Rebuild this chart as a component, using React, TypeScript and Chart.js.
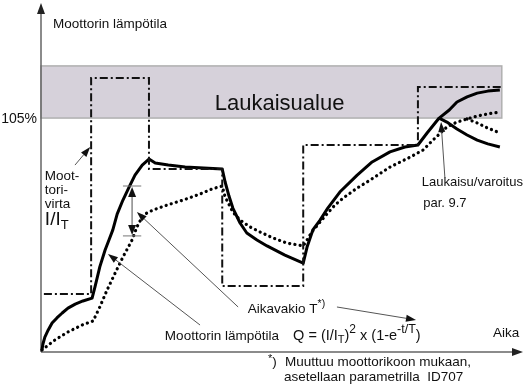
import React, { useEffect, useRef } from "react";
import { Chart, registerables } from "chart.js";

Chart.register(...registerables);

// ---- data (time in arbitrary units, levels in % of motor temperature scale) ----
const TIME_MAX = 100;
const LEVEL_MAX = 153.5;
const TRIP_LEVEL = 105; // 105 %
const ZONE_TOP = 128.4;
const ZONE_END = 95.6;

// Motor current I/I_T (dash-dot)
const currentTime = [0.6, 10.4, 10.4, 22.4, 22.4, 37.6, 37.6, 54.4, 54.4, 78.2, 78.2, 95.4];
const currentLevel = [26.0, 26.0, 123.0, 123.0, 82.1, 82.1, 29.6, 29.6, 92.9, 92.9, 118.9, 118.9];

// Motor temperature (solid)
const tempTime = [0.2, 0.4, 0.8, 1.5, 2.3, 3.3, 4.4, 5.6, 7.1, 8.7, 10.6, 11.2, 12.2, 13.3, 14.1, 14.9, 15.8, 17.0, 18.3, 19.5, 21.0, 22.4, 23.7, 26.4, 29.9, 37.6, 38.2, 39.0, 39.8, 41.3, 42.7, 44.8, 46.9, 50.6, 54.4, 55.2, 56.4, 57.9, 59.5, 62.0, 65.6, 68.7, 72.4, 75.5, 78.2, 80.1, 82.6, 84.7, 86.3, 88.4, 90.5, 92.7, 95.2];
const tempLevel = [0.9, 3.6, 6.7, 9.9, 13.0, 15.3, 17.5, 19.7, 21.5, 22.9, 24.2, 29.2, 38.2, 45.8, 50.3, 54.8, 61.9, 68.2, 74.1, 79.4, 83.9, 86.6, 84.8, 83.9, 83.0, 82.1, 76.3, 70.0, 64.6, 57.9, 53.4, 50.3, 47.6, 43.5, 39.9, 47.1, 54.8, 59.2, 64.6, 71.8, 79.4, 85.3, 89.8, 92.0, 92.9, 98.3, 105.0, 108.6, 112.2, 114.5, 116.2, 117.1, 117.6];

// Motor temperature after trip (solid branch)
const tempTripTime = [82.6, 84.2, 86.3, 88.4, 90.5, 92.7, 95.2];
const tempTripLevel = [105.0, 103.2, 100.1, 97.4, 95.1, 93.4, 92.0];

// Temperature, slower time constant (dotted)
const slowTime = [0.2, 1.5, 2.9, 5.6, 8.5, 10.8, 12.2, 13.7, 15.4, 17.0, 18.9, 19.9, 21.2, 23.2, 26.1, 29.5, 33.0, 35.5, 37.6, 38.2, 39.8, 41.3, 43.4, 45.4, 48.1, 51.0, 54.4, 55.2, 56.2, 57.9, 59.3, 61.0, 62.7, 65.6, 68.3, 72.4, 76.6, 79.3, 81.3, 84.2, 86.3, 88.4, 90.5, 92.5, 95.2];
const slowLevel = [0.9, 3.1, 5.4, 9.0, 12.1, 13.9, 20.2, 27.8, 35.5, 42.6, 50.3, 56.1, 61.5, 63.7, 65.9, 68.2, 70.9, 73.2, 74.5, 69.6, 62.8, 59.2, 56.1, 53.9, 51.2, 48.9, 47.6, 50.3, 53.9, 58.3, 61.9, 66.0, 69.1, 73.6, 77.2, 83.0, 87.5, 90.7, 95.1, 101.0, 103.2, 104.6, 105.9, 106.8, 107.7];

const slowBranchTime = [88.4, 90.5, 92.7, 95.2];
const slowBranchLevel = [104.6, 102.8, 100.5, 98.3];

const FONT = '"Liberation Sans", Arial, Helvetica, sans-serif';

const pts = (xs: number[], ys: number[]) => xs.map((x, i) => ({ x, y: ys[i] }));

type Run = [string, number, number]; // text, font size, vertical offset

function drawRuns(ctx: CanvasRenderingContext2D, x: number, y: number, runs: Run[]) {
  let cx = x;
  for (const [t, size, dy] of runs) {
    ctx.font = `${size}px ${FONT}`;
    ctx.fillText(t, cx, y + dy);
    cx += ctx.measureText(t).width;
  }
}

function drawArrow(ctx: CanvasRenderingContext2D, x1: number, y1: number, x2: number, y2: number, len = 10, half = 3.5) {
  const a = Math.atan2(y2 - y1, x2 - x1);
  const bx = x2 - len * Math.cos(a);
  const by = y2 - len * Math.sin(a);
  ctx.strokeStyle = "#555";
  ctx.lineWidth = 1;
  ctx.beginPath();
  ctx.moveTo(x1, y1);
  ctx.lineTo(bx, by);
  ctx.stroke();
  ctx.fillStyle = "#111";
  ctx.beginPath();
  ctx.moveTo(x2, y2);
  ctx.lineTo(bx + half * Math.sin(a), by - half * Math.cos(a));
  ctx.lineTo(bx - half * Math.sin(a), by + half * Math.cos(a));
  ctx.closePath();
  ctx.fill();
}

const diagramPlugin = {
  id: "diagram",
  beforeDatasetsDraw(chart: any) {
    const { ctx, chartArea } = chart;
    const xs = chart.scales.x;
    const ys = chart.scales.y;
    ctx.save();
    // trip zone band
    const x0 = xs.getPixelForValue(0);
    const x1 = xs.getPixelForValue(ZONE_END);
    const yTop = ys.getPixelForValue(ZONE_TOP);
    const yBot = ys.getPixelForValue(TRIP_LEVEL);
    ctx.fillStyle = "rgb(214,209,218)";
    ctx.fillRect(x0, yTop, x1 - x0, yBot - yTop);
    ctx.strokeStyle = "#b0b0b0";
    ctx.lineWidth = 1.5;
    ctx.strokeRect(x0, yTop, x1 - x0, yBot - yTop);

    ctx.fillStyle = "#111";
    ctx.font = `22px ${FONT}`;
    ctx.textAlign = "center";
    ctx.textBaseline = "alphabetic";
    ctx.fillText("Laukaisualue", xs.getPixelForValue(49.5), ys.getPixelForValue(108.6));

    // axes
    ctx.strokeStyle = "#666";
    ctx.fillStyle = "#222";
    ctx.lineWidth = 1.5;
    const left = chartArea.left;
    const bottom = chartArea.bottom;
    ctx.beginPath();
    ctx.moveTo(left, bottom);
    ctx.lineTo(left, chartArea.top + 2);
    ctx.moveTo(left, bottom);
    ctx.lineTo(chartArea.right - 8, bottom);
    ctx.stroke();
    ctx.beginPath();
    ctx.moveTo(left, chartArea.top - 7);
    ctx.lineTo(left - 4, chartArea.top + 4);
    ctx.lineTo(left + 4, chartArea.top + 4);
    ctx.closePath();
    ctx.fill();
    ctx.beginPath();
    ctx.moveTo(chartArea.right, bottom);
    ctx.lineTo(chartArea.right - 11, bottom - 4);
    ctx.lineTo(chartArea.right - 11, bottom + 4);
    ctx.closePath();
    ctx.fill();
    ctx.restore();
  },
  afterDatasetsDraw(chart: any) {
    const { ctx, chartArea } = chart;
    const xs = chart.scales.x;
    const ys = chart.scales.y;
    const X = (t: number) => xs.getPixelForValue(t);
    const Y = (v: number) => ys.getPixelForValue(v);
    ctx.save();
    ctx.fillStyle = "#111";
    ctx.textBaseline = "alphabetic";
    ctx.textAlign = "left";

    // y-axis title
    ctx.font = `13.5px ${FONT}`;
    ctx.fillText("Moottorin lämpötila", X(2.5), Y(145.4));

    // 105 %
    ctx.font = `14px ${FONT}`;
    ctx.textAlign = "right";
    ctx.fillText("105%", chartArea.left - 4, Y(TRIP_LEVEL) + 5);
    ctx.textAlign = "left";

    // current label
    ctx.font = `13.5px ${FONT}`;
    ctx.fillText("Moot-", X(0.8), Y(77.2));
    ctx.fillText("tori-", X(0.8), Y(70.9));
    ctx.fillText("virta", X(0.8), Y(64.6));
    drawRuns(ctx, X(0.8), Y(57.0), [["I/I", 19, 0], ["T", 13, 4]]);

    // time constant
    drawRuns(ctx, X(42.9), Y(17.5), [["Aikavakio T", 13.5, 0], ["*)", 10.5, -6]]);

    // lower temperature label + formula
    ctx.font = `13.5px ${FONT}`;
    ctx.fillText("Moottorin lämpötila", X(25.7), Y(5.4));
    drawRuns(ctx, X(52.3), Y(5.4), [
      ["Q = (I/I", 14.5, 0],
      ["T", 11, 3],
      [")", 14.5, 0],
      ["2", 12, -7],
      [" x (1-e", 14.5, 0],
      ["-t/T", 12.5, -7],
      [")", 14.5, 0],
    ]);

    ctx.font = `13.5px ${FONT}`;
    ctx.fillText("Aika", X(93.8), Y(6.7));

    // footnote
    drawRuns(ctx, X(47.1), Y(-6.3), [["*", 11, -4], [")", 13.5, 0]]);
    ctx.font = `13.5px ${FONT}`;
    ctx.fillText("Muuttuu moottorikoon mukaan,", X(50.6), Y(-6.3));
    ctx.fillText("asetellaan parametrilla  ID707", X(50.4), Y(-13.0));

    // trip label
    ctx.font = `13px ${FONT}`;
    ctx.fillText("Laukaisu/varoitus", X(79.0), Y(74.5));
    ctx.fillText("par. 9.7", X(79.3), Y(65.1));

    // arrows
    drawArrow(ctx, X(7.05), Y(83.9), X(10.2), Y(92.0));
    drawArrow(ctx, X(40.9), Y(20.2), X(19.9), Y(62.8));
    drawArrow(ctx, X(33.0), Y(12.1), X(13.9), Y(44.0));
    drawArrow(ctx, X(61.4), Y(20.2), X(77.8), Y(14.4));
    drawArrow(ctx, X(83.8), Y(78.1), X(83.0), Y(103.2));

    // time constant double arrow
    const dx = X(18.9);
    const yA = Y(74.5);
    const yB = Y(52.1);
    ctx.strokeStyle = "#777";
    ctx.lineWidth = 1;
    ctx.beginPath();
    ctx.moveTo(X(17.0), yA);
    ctx.lineTo(X(20.8), yA);
    ctx.moveTo(X(17.0), yB);
    ctx.lineTo(X(20.8), yB);
    ctx.stroke();
    ctx.strokeStyle = "#888";
    ctx.lineWidth = 1.5;
    ctx.beginPath();
    ctx.moveTo(dx, yA + 8);
    ctx.lineTo(dx, yB - 8);
    ctx.stroke();
    ctx.fillStyle = "#111";
    ctx.beginPath();
    ctx.moveTo(dx, yA + 1);
    ctx.lineTo(dx - 4, yA + 11);
    ctx.lineTo(dx + 4, yA + 11);
    ctx.closePath();
    ctx.fill();
    ctx.beginPath();
    ctx.moveTo(dx, yB - 1);
    ctx.lineTo(dx - 4, yB - 11);
    ctx.lineTo(dx + 4, yB - 11);
    ctx.closePath();
    ctx.fill();

    ctx.restore();
  },
};

export default function App() {
  const ref = useRef<HTMLCanvasElement | null>(null);
  useEffect(() => {
    if (!ref.current) return;
    const common = { pointRadius: 0, tension: 0, clip: false as any, fill: false };
    const chart = new Chart(ref.current, {
      type: "line",
      data: {
        datasets: [
          {
            ...common,
            label: "I/IT",
            data: pts(currentTime, currentLevel),
            borderColor: "#111",
            borderWidth: 2,
            borderDash: [8, 3, 2, 3],
          },
          {
            ...common,
            label: "Moottorin lämpötila",
            data: pts(tempTime, tempLevel),
            borderColor: "#000",
            borderWidth: 3,
            borderJoinStyle: "round",
          },
          {
            ...common,
            label: "Laukaisu",
            data: pts(tempTripTime, tempTripLevel),
            borderColor: "#000",
            borderWidth: 3,
            borderJoinStyle: "round",
          },
          {
            ...common,
            label: "Q",
            data: pts(slowTime, slowLevel),
            borderColor: "#000",
            borderWidth: 3.2,
            borderDash: [0.1, 5.2],
            borderCapStyle: "round",
          },
          {
            ...common,
            label: "Q2",
            data: pts(slowBranchTime, slowBranchLevel),
            borderColor: "#000",
            borderWidth: 3.2,
            borderDash: [0.1, 5.2],
            borderCapStyle: "round",
          },
        ] as any,
      },
      options: {
        animation: false,
        responsive: false,
        maintainAspectRatio: false,
        events: [],
        layout: { padding: { left: 41, top: 10, right: 4, bottom: 37 } },
        scales: {
          x: { type: "linear", min: 0, max: TIME_MAX, display: false },
          y: { type: "linear", min: 0, max: LEVEL_MAX, display: false },
        },
        plugins: { legend: { display: false }, tooltip: { enabled: false } },
      },
      plugins: [diagramPlugin],
    });
    return () => chart.destroy();
  }, []);
  return (
    <div style={{ position: "fixed", left: 0, top: 0, width: 527, height: 389, background: "#fff" }}>
      <canvas ref={ref} width={527} height={389} style={{ display: "block" }} />
    </div>
  );
}
